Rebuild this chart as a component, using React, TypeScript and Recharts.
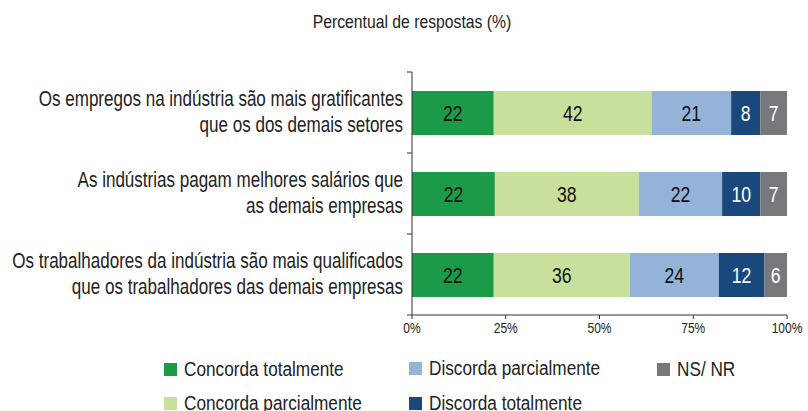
import React from "react";
import { BarChart, Bar, XAxis, YAxis, LabelList } from "recharts";

const categories = [
  "Os empregos na indústria são mais gratificantes\nque os dos demais setores",
  "As indústrias pagam melhores salários que\nas demais empresas",
  "Os trabalhadores da indústria são mais qualificados\nque os trabalhadores das demais empresas",
];
const concordaTotalmente = [21.8, 22.1, 21.8];
const concordaParcialmente = [42.1, 38.4, 36.3];
const discordaParcialmente = [21.2, 22.2, 23.7];
const discordaTotalmente = [7.8, 10.2, 12.2];
const nsNr = [7.1, 7.1, 6.0];
const xTicks = [0, 25, 50, 75, 100];

const series = [
  { key: "ct", name: "Concorda totalmente", values: concordaTotalmente, color: "#1b9a48", text: "#111" },
  { key: "cp", name: "Concorda parcialmente", values: concordaParcialmente, color: "#c8e09b", text: "#111" },
  { key: "dp", name: "Discorda parcialmente", values: discordaParcialmente, color: "#93b3d8", text: "#111" },
  { key: "dt", name: "Discorda totalmente", values: discordaTotalmente, color: "#1b487c", text: "#fff" },
  { key: "ns", name: "NS/ NR", values: nsNr, color: "#76787b", text: "#fff" },
];

const data = categories.map((c, i) => {
  const row: any = { cat: c };
  series.forEach((s) => (row[s.key] = s.values[i]));
  return row;
});

const FONT = '"Liberation Sans", Arial, sans-serif';
const SX = 0.8;
const TOP = 72;
const BOTTOM_AXIS = 315;
const HALF_BAND = (BOTTOM_AXIS - TOP) / categories.length / 2;

const YTick = (props: any) => {
  const { y, payload, index } = props;
  const lines = String(payload.value).split("\n");
  const axisX = 412;
  return (
    <g>
      <line x1={axisX - 5} x2={axisX} y1={y - HALF_BAND} y2={y - HALF_BAND} stroke="#333" strokeWidth={1} />
      {index === categories.length - 1 && (
        <line x1={axisX - 5} x2={axisX} y1={y + HALF_BAND} y2={y + HALF_BAND} stroke="#333" strokeWidth={1} />
      )}
      <g transform={`translate(${axisX - 9},${y}) scale(${SX},1)`}>
        <text x={0} y={0} textAnchor="end" fontFamily={FONT} fontSize={21.3} fill="#222">
          <tspan x={0} dy={-7}>{lines[0]}</tspan>
          <tspan x={0} dy={27}>{lines[1]}</tspan>
        </text>
      </g>
    </g>
  );
};

const XTick = (props: any) => {
  const { x, y, payload } = props;
  return (
    <g transform={`translate(${x},${y + 12}) scale(${SX},1)`}>
      <text x={0} y={0} textAnchor="middle" fontFamily={FONT} fontSize={15} fill="#222">
        {`${payload.value}%`}
      </text>
    </g>
  );
};

const makeLabel = (color: string) => (props: any) => {
  const { x, y, width, height, value } = props;
  return (
    <g transform={`translate(${x + width / 2},${y + height / 2 + 8}) scale(${SX},1)`}>
      <text x={0} y={0} textAnchor="middle" fontFamily={FONT} fontSize={22} fill={color}>
        {Math.round(Number(value))}
      </text>
    </g>
  );
};

const legendPos = [
  { left: 164, top: 363 },
  { left: 164, top: 397 },
  { left: 409, top: 362 },
  { left: 409, top: 397 },
  { left: 657, top: 363 },
];

export default function App() {
  return (
    <div style={{ position: "fixed", left: 0, top: 0, width: 808, height: 411, background: "#fff", fontFamily: FONT, overflow: "hidden" }}>
      <div style={{ position: "absolute", left: 0, width: 824, top: 11, textAlign: "center", fontSize: 18.5, color: "#222", transform: `scaleX(0.85)`, transformOrigin: "412px 0" }}>
        Percentual de respostas (%)
      </div>
      <BarChart
        width={808}
        height={411}
        data={data}
        layout="vertical"
        margin={{ top: TOP, right: 21, bottom: 411 - BOTTOM_AXIS - 30, left: 12 }}
        barSize={44}
      >
        <XAxis
          type="number"
          domain={[0, 100]}
          ticks={xTicks}
          height={30}
          stroke="#333"
          tickSize={4}
          tick={<XTick />}
          interval={0}
          allowDataOverflow
        />
        <YAxis
          type="category"
          dataKey="cat"
          width={400}
          stroke="#333"
          tickLine={false}
          tick={<YTick />}
          interval={0}
        />
        {series.map((s) => (
          <Bar key={s.key} dataKey={s.key} name={s.name} stackId="a" fill={s.color} isAnimationActive={false}>
            <LabelList dataKey={s.key} content={makeLabel(s.text)} />
          </Bar>
        ))}
      </BarChart>
      {series.map((s, i) => (
        <div key={s.key} style={{ position: "absolute", left: legendPos[i].left, top: legendPos[i].top, width: 300, height: 13 }}>
          <span style={{ position: "absolute", left: 0, top: 0, width: 13, height: 13, background: s.color }} />
          <span
            style={{
              position: "absolute",
              left: 20,
              top: -6,
              lineHeight: "24px",
              fontSize: 20,
              color: "#222",
              whiteSpace: "nowrap",
              transform: "scaleX(0.86)",
              transformOrigin: "0 50%",
            }}
          >
            {s.name}
          </span>
        </div>
      ))}
    </div>
  );
}
